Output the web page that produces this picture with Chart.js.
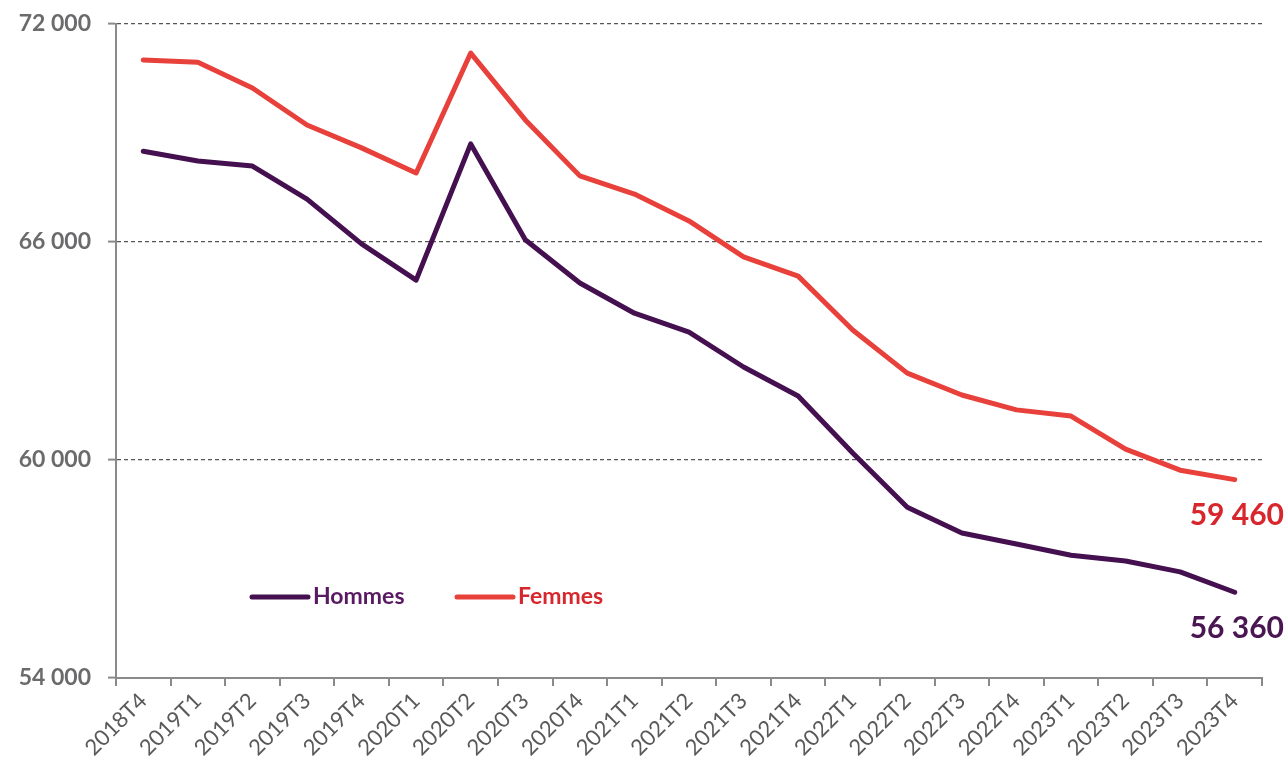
<!DOCTYPE html>
<html>
<head>
<meta charset="utf-8">
<script src="https://cdn.jsdelivr.net/npm/chart.js@4.4.1/dist/chart.umd.min.js"></script>
<style>
  html, body { margin: 0; padding: 0; background: #fff; }
  #wrap { width: 1288px; height: 778px; }
</style>
</head>
<body>
<div id="wrap"><canvas id="chart"></canvas></div>
<script>
// Quarters on the x axis
const quarters = ['2018T4', '2019T1', '2019T2', '2019T3', '2019T4', '2020T1', '2020T2', '2020T3',
    '2020T4', '2021T1', '2021T2', '2021T3', '2021T4', '2022T1', '2022T2', '2022T3', '2022T4',
    '2023T1', '2023T2', '2023T3', '2023T4'];

// Values
const hommes = [68500, 68230, 68090, 67180, 65950, 64950, 68700, 66060, 64870, 64040, 63520,
    62560, 61760, 60190, 58700, 57990, 57690, 57380, 57220, 56920, 56360];
const femmes = [71010, 70950, 70240, 69220, 68590, 67900, 71200, 69360, 67820, 67320, 66580,
    65590, 65060, 63580, 62390, 61790, 61380, 61210, 60300, 59720, 59460];

const yTicks = [54000, 60000, 66000, 72000];

const purple = '#45104f';
const red = '#e8403a';

function fmt(v) {
    return String(v).replace(/\B(?=(\d{3})+(?!\d))/g, ' ');
}

// Legend inside the plot + end-of-line value labels
const overlay = {
    id: 'overlay',
    afterDatasetsDraw(chart) {
        const ctx = chart.ctx;
        ctx.save();
        ctx.lineCap = 'round';
        ctx.lineWidth = 5;
        ctx.font = 'bold 23px Lato';
        ctx.textBaseline = 'middle';
        const legend = [
            { text: 'Hommes', color: purple, text2: '#5a1a63', x: 252 },
            { text: 'Femmes', color: red, text2: '#d8262d', x: 457 }
        ];
        legend.forEach(l => {
            ctx.strokeStyle = l.color;
            ctx.beginPath();
            ctx.moveTo(l.x, 597);
            ctx.lineTo(l.x + 56, 597);
            ctx.stroke();
            ctx.fillStyle = l.text2;
            ctx.fillText(l.text, l.x + 61, 597);
        });

        ctx.font = 'bold 30px Lato';
        ctx.textAlign = 'right';
        const last = quarters.length - 1;
        const metaF = chart.getDatasetMeta(1).data[last];
        const metaH = chart.getDatasetMeta(0).data[last];
        ctx.fillStyle = '#d8262d';
        ctx.fillText(fmt(femmes[last]), 1284, metaF.y + 36);
        ctx.fillStyle = '#4a1652';
        ctx.fillText(fmt(hommes[last]), 1284, metaH.y + 36);
        ctx.restore();
    }
};

new Chart(document.getElementById('chart'), {
    type: 'line',
    data: {
        labels: quarters,
        datasets: [
            { label: 'Hommes', data: hommes, borderColor: purple },
            { label: 'Femmes', data: femmes, borderColor: red }
        ]
    },
    options: {
        responsive: true,
        maintainAspectRatio: false,
        animation: false,
        layout: { padding: { top: 24, right: 26, left: 0, bottom: 0 } },
        elements: {
            line: { borderWidth: 5, tension: 0, borderCapStyle: 'round', borderJoinStyle: 'round' },
            point: { radius: 0 }
        },
        plugins: {
            legend: { display: false },
            tooltip: { enabled: false }
        },
        scales: {
            x: {
                offset: true,
                grid: { display: true, drawOnChartArea: false, offset: true, color: '#8a8a8a', lineWidth: 2, tickLength: 8 },
                border: { color: '#8a8a8a', width: 2 },
                ticks: {
                    color: '#595959',
                    font: { family: 'Lato', size: 22 },
                    maxRotation: 45,
                    minRotation: 45,
                    padding: 2
                },
                afterFit(scale) { scale.height = 100; }
            },
            y: {
                min: 54000,
                max: 72000,
                afterBuildTicks(scale) { scale.ticks = yTicks.map(v => ({ value: v })); },
                grid: { color: '#555', lineWidth: 1.2, tickLength: 8, tickBorderDash: [], tickColor: '#8a8a8a', tickWidth: 2 },
                border: { color: '#8a8a8a', width: 2, dash: [4, 3] },
                ticks: {
                    color: '#6b6b6d',
                    font: { family: 'Lato', size: 23, weight: 700 },
                    padding: 17,
                    callback: v => fmt(v)
                },
                afterFit(scale) {
                    scale.width = 116;
                    scale.paddingTop = 0;
                    scale.paddingBottom = 0;
                }
            }
        }
    },
    plugins: [overlay]
});
</script>
</body>
</html>
